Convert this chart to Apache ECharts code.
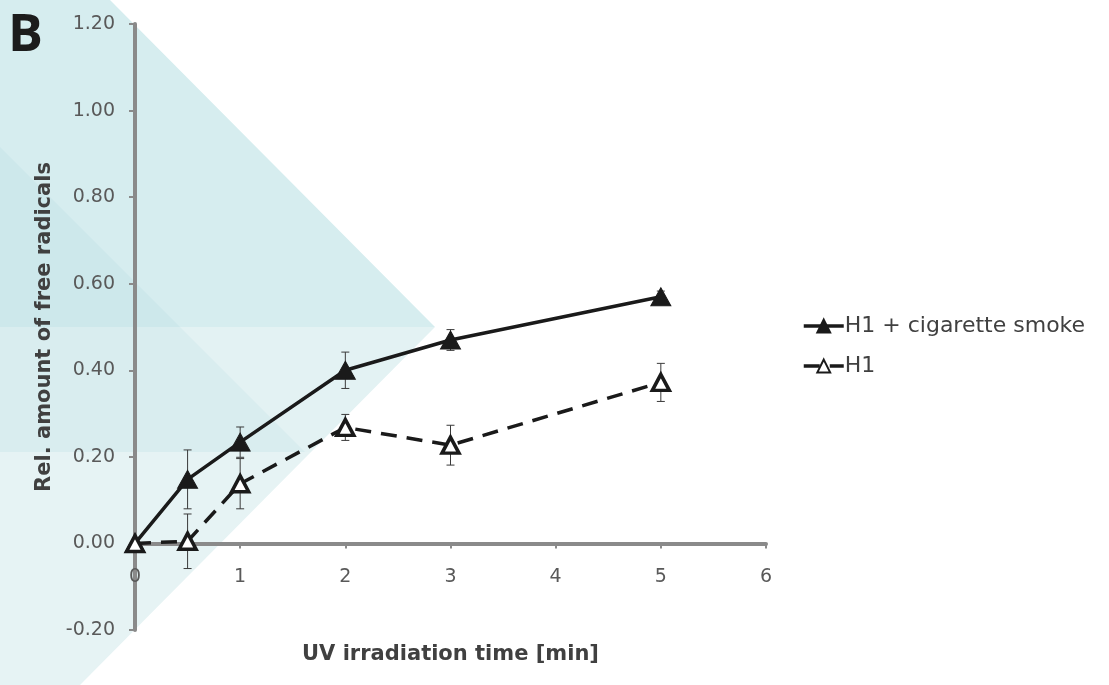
<!DOCTYPE html>
<html>
<head>
<meta charset="utf-8">
<script src="https://cdn.jsdelivr.net/npm/echarts@6/dist/echarts.min.js"></script>
<style>
  html, body { margin: 0; padding: 0; background: #fff; }
  #chart { width: 1109px; height: 685px; }
</style>
</head>
<body>
<div id="chart"></div>
<script>
// UV irradiation time [min]
const times = [0, 0.5, 1, 2, 3, 5]
// H1 + cigarette smoke
const smokeMean = [0.00, 0.148, 0.234, 0.400, 0.470, 0.570]
const smokeErr = [0.005, 0.068, 0.035, 0.042, 0.024, 0.013]
// H1
const h1Mean = [0.00, 0.005, 0.138, 0.268, 0.227, 0.372]
const h1Err = [0.005, 0.063, 0.058, 0.030, 0.046, 0.044]

const seriesNames = ['H1 + cigarette smoke', 'H1']
const yMin = -0.2
const yMax = 1.2

function pairs(xs, ys) {
  return xs.map((x, i) => [x, ys[i]])
}
function errRows(xs, ys, es) {
  return xs.map((x, i) => [x, ys[i] - es[i], ys[i] + es[i]])
}

function renderErr(params, api) {
  const x = api.value(0)
  const lo = api.coord([x, api.value(1)])
  const hi = api.coord([x, api.value(2)])
  const w = 4
  const style = {stroke: '#3a3a3a', lineWidth: 1}
  return {
    type: 'group',
    children: [
      {type: 'line', shape: {x1: hi[0], y1: hi[1], x2: lo[0], y2: lo[1]}, style: style},
      {type: 'line', shape: {x1: hi[0] - w, y1: hi[1], x2: hi[0] + w, y2: hi[1]}, style: style},
      {type: 'line', shape: {x1: lo[0] - w, y1: lo[1], x2: lo[0] + w, y2: lo[1]}, style: style}
    ]
  }
}

const font = 'DejaVu Sans'
const gridTop = 24
const gridBottom = 55
const plotH = 685 - gridTop - gridBottom
// lift the x axis (with its labels) up to y = 0
const xOffset = -plotH * (0 - yMin) / (yMax - yMin)

const chart = echarts.init(document.getElementById('chart'))

const option = {
  animation: false,
  textStyle: {fontFamily: font},
  title: {
    text: 'B',
    left: 3,
    top: 5,
    textStyle: {fontSize: 52, fontWeight: 'bold', color: '#1c1c1c', fontFamily: 'Open Sans'}
  },
  // faint teal watermark behind the plot
  graphic: [
    {type: 'polygon', z: -10, silent: true,
      shape: {points: [[0, 0], [110, 0], [435, 327], [0, 327]]},
      style: {fill: '#d6edef'}},
    {type: 'polygon', z: -10, silent: true,
      shape: {points: [[0, 327], [435, 327], [311, 452], [0, 452]]},
      style: {fill: '#e3f2f3'}},
    {type: 'polygon', z: -10, silent: true,
      shape: {points: [[0, 452], [311, 452], [80, 685], [0, 685]]},
      style: {fill: '#e6f3f4'}},
    {type: 'polygon', z: -9, silent: true,
      shape: {points: [[0, 147], [305, 452], [0, 452]]},
      style: {fill: 'rgba(120,190,198,0.09)'}}
  ],
  legend: {
    orient: 'vertical',
    left: 797,
    top: 310,
    itemWidth: 40,
    itemHeight: 16,
    itemGap: 18,
    data: seriesNames,
    lineStyle: {width: 3.5},
    textStyle: {fontSize: 22, color: '#404040', fontFamily: font, padding: [0, 0, 0, -4]}
  },
  grid: {left: 135, right: 343, top: gridTop, bottom: gridBottom, outerBoundsMode: 'none'},
  xAxis: {
    type: 'value',
    min: 0,
    max: 6,
    interval: 1,
    offset: xOffset,
    name: 'UV irradiation time [min]',
    nameLocation: 'middle',
    nameGap: 101,
    nameTextStyle: {fontSize: 21, fontWeight: 'bold', color: '#404040', fontFamily: font},
    axisLine: {onZero: false, lineStyle: {color: '#8a8a8a', width: 4}},
    axisTick: {show: true, inside: false, length: 5, lineStyle: {color: '#8a8a8a', width: 2}},
    axisLabel: {fontSize: 19, color: '#595959', margin: 24, fontFamily: font},
    splitLine: {show: false}
  },
  yAxis: {
    type: 'value',
    min: yMin,
    max: yMax,
    interval: 0.2,
    name: 'Rel. amount of free radicals',
    nameLocation: 'middle',
    nameGap: 80,
    nameTextStyle: {fontSize: 21, fontWeight: 'bold', color: '#404040', fontFamily: font},
    axisLine: {show: true, onZero: false, lineStyle: {color: '#8a8a8a', width: 4}},
    axisTick: {show: true, length: 6, lineStyle: {color: '#8a8a8a', width: 2}},
    axisLabel: {fontSize: 19, color: '#595959', margin: 20, fontFamily: font,
      formatter: v => v.toFixed(2)},
    splitLine: {show: false}
  },
  series: [
    {
      type: 'custom',
      renderItem: renderErr,
      data: errRows(times, smokeMean, smokeErr),
      z: 1,
      silent: true
    },
    {
      type: 'custom',
      renderItem: renderErr,
      data: errRows(times, h1Mean, h1Err),
      z: 1,
      silent: true
    },
    {
      name: seriesNames[0],
      type: 'line',
      data: pairs(times, smokeMean),
      symbol: 'triangle',
      symbolSize: [20, 18],
      lineStyle: {color: '#1a1a1a', width: 3.5},
      itemStyle: {color: '#1a1a1a', borderColor: '#1a1a1a', borderWidth: 1},
      z: 3
    },
    {
      name: seriesNames[1],
      type: 'line',
      data: pairs(times, h1Mean),
      symbol: 'triangle',
      symbolSize: [17, 16],
      lineStyle: {color: '#1a1a1a', width: 3.5, type: [16, 10]},
      itemStyle: {color: '#ffffff', borderColor: '#1a1a1a', borderWidth: 3.5},
      z: 3
    }
  ]
}

chart.setOption(option)
</script>
</body>
</html>
